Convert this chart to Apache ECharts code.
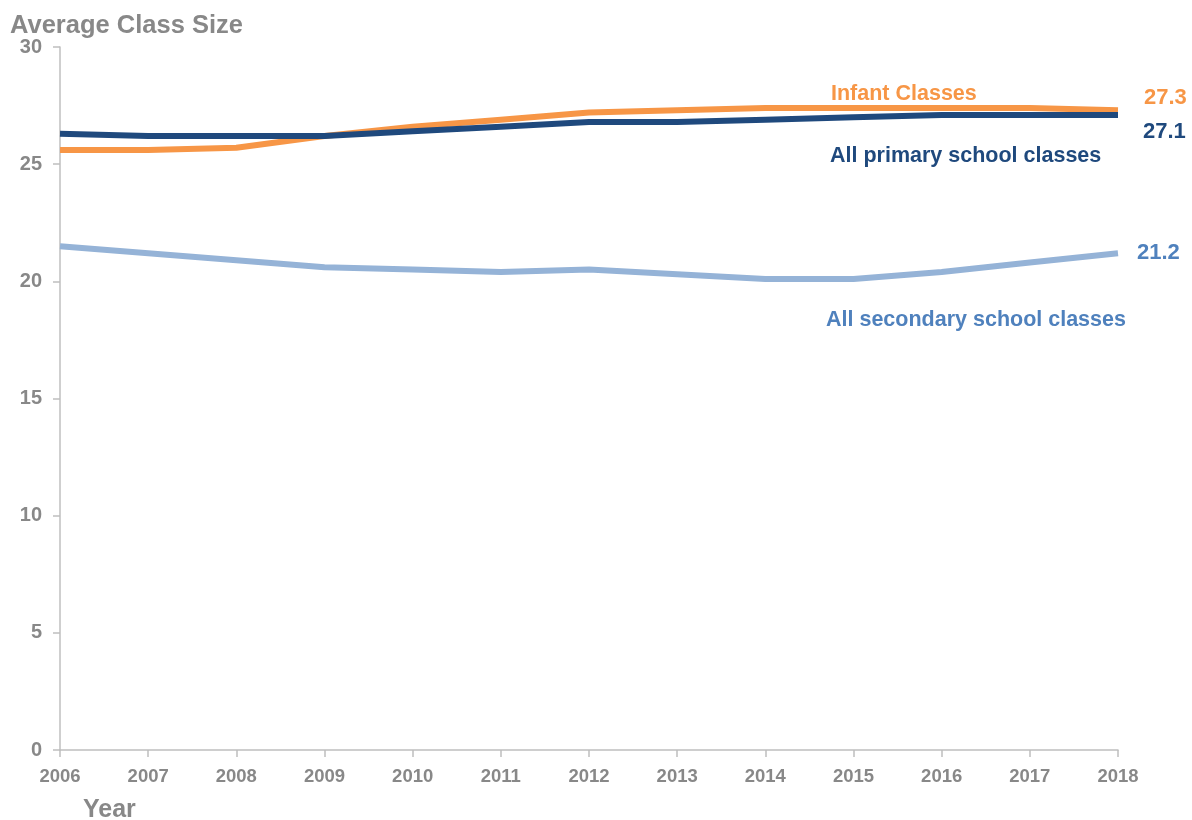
<!DOCTYPE html>
<html>
<head>
<meta charset="utf-8">
<script src="https://cdn.jsdelivr.net/npm/echarts@6/dist/echarts.min.js"></script>
<style>html,body{margin:0;padding:0;background:#fff}#c{width:1192px;height:820px}</style>
</head>
<body>
<div id="c"></div>
<script>
const years = ['2006','2007','2008','2009','2010','2011','2012','2013','2014','2015','2016','2017','2018'];
const infant = [25.6,25.6,25.7,26.2,26.6,26.9,27.2,27.3,27.4,27.4,27.4,27.4,27.3];
const primary = [26.3,26.2,26.2,26.2,26.4,26.6,26.8,26.8,26.9,27.0,27.1,27.1,27.1];
const secondary = [21.5,21.2,20.9,20.6,20.5,20.4,20.5,20.3,20.1,20.1,20.4,20.8,21.2];
const yTicks = [0,5,10,15,20,25,30];

const FONT = '"Liberation Sans", Arial, sans-serif';
const GRAY = '#888888';
const chart = echarts.init(document.getElementById('c'));
function series(name, data, color, labelColor, offY, dist) {
  return {
    name, type: 'line', data, symbol: 'none', smooth: false,
    lineStyle: { color, width: 6 },
    itemStyle: { color },
    endLabel: { show: true, formatter: p => p.value.toFixed(1), color: labelColor,
      fontFamily: FONT, fontWeight: 'bold', fontSize: 22, distance: dist, offset: [0, offY] },
    animation: false
  };
}
chart.setOption({
  animation: false,
  grid: { left: 60, right: 74, top: 47, bottom: 70, outerBoundsMode: 'none', containLabel: false },
  title: { text: 'Average Class Size', left: 5, top: 8,
    textStyle: { color: GRAY, fontFamily: FONT, fontWeight: 'bold', fontSize: 25.5 } },
  xAxis: {
    type: 'category', data: years, boundaryGap: false,
    axisLine: { lineStyle: { color: '#BFBFBF', width: 1.5 } },
    axisTick: { show: true, length: 7, lineStyle: { color: '#BFBFBF', width: 1.5 } },
    axisLabel: { color: GRAY, fontFamily: FONT, fontWeight: 'bold', fontSize: 18.5, margin: 17 },
    name: 'Year', nameLocation: 'start', nameGap: 0,
    nameTextStyle: { color: GRAY, fontFamily: FONT, fontWeight: 'bold', fontSize: 25,
      align: 'left', verticalAlign: 'top', padding: [48, 0, 0, 23] },
    splitLine: { show: false }
  },
  yAxis: {
    type: 'value', min: 0, max: 30, interval: 5,
    axisLine: { show: true, lineStyle: { color: '#BFBFBF', width: 1.5 } },
    axisTick: { show: true, length: 7, lineStyle: { color: '#BFBFBF', width: 1.5 } },
    axisLabel: { color: GRAY, fontFamily: FONT, fontWeight: 'bold', fontSize: 20, margin: 18,
      formatter: v => yTicks.includes(v) ? String(v) : '' },
    splitLine: { show: false }
  },
  series: [
    series('Infant Classes', infant, '#F79646', '#F79646', -12, 26),
    series('All primary school classes', primary, '#1F497D', '#1F497D', 17, 25),
    series('All secondary school classes', secondary, '#95B3D7', '#4F81BD', 0, 19)
  ],
  graphic: [
    { type: 'text', left: 831, top: 83, style: { text: 'Infant Classes', fill: '#F79646',
      font: 'bold 21.5px ' + FONT } },
    { type: 'text', left: 830, top: 145, style: { text: 'All primary school classes', fill: '#1F497D',
      font: 'bold 21.5px ' + FONT } },
    { type: 'text', left: 826, top: 309, style: { text: 'All secondary school classes', fill: '#4F81BD',
      font: 'bold 21.5px ' + FONT } }
  ]
});
</script>
</body>
</html>
